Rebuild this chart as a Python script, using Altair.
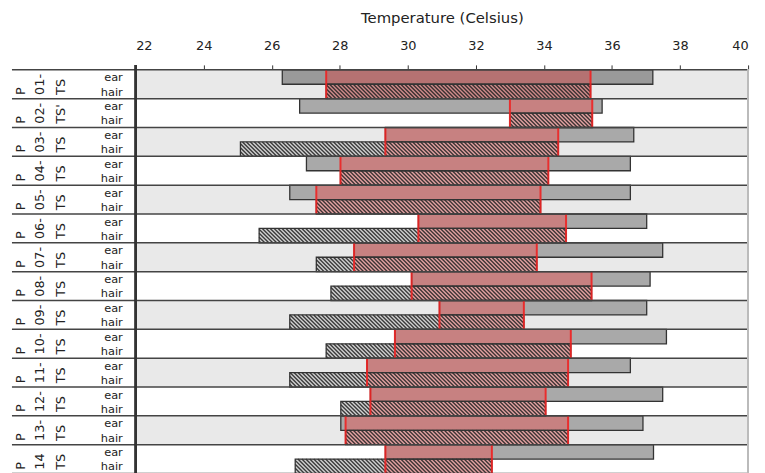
import altair as alt
import pandas as pd
import math

# ---- data ----
nums = ["01-", "02-", "03-", "04-", "05-", "06-", "07-", "08-", "09-", "10-", "11-", "12-", "13-", "14"]
ts_labels = ["TS", "TS'", "TS", "TS", "TS", "TS", "TS", "TS", "TS", "TS", "TS", "TS", "TS", "TS"]
ear_lo = [26.31, 26.82, 29.34, 27.02, 26.53, 30.31, 28.42, 30.11, 30.93, 29.62, 28.80, 28.90, 28.03, 29.34]
ear_hi = [37.20, 35.71, 36.64, 36.54, 36.54, 37.02, 37.49, 37.12, 37.02, 37.60, 36.54, 37.49, 36.91, 37.22]
hair_lo = [27.60, 33.00, 25.08, 28.02, 27.31, 25.63, 27.31, 27.74, 26.53, 27.60, 26.53, 28.03, 28.17, 26.69]
hair_hi = [35.37, 35.42, 34.42, 34.13, 33.90, 34.65, 33.79, 35.40, 33.41, 34.79, 34.71, 34.05, 34.71, 32.47]
ticks = list(range(22, 41, 2))

N = len(nums)
W, H = 619, 408
X0, X1 = 22, 40

rows = []
for i in range(N):
    rows.append({
        "i": i,
        "top": i, "mid": i + 0.5, "bot": i + 1,
        "xa": X0, "xb": X1,
        "ear_lo": ear_lo[i], "ear_hi": ear_hi[i],
        "hair_lo": hair_lo[i], "hair_hi": hair_hi[i],
        "red_lo": max(ear_lo[i], hair_lo[i]), "red_hi": min(ear_hi[i], hair_hi[i]),
        "stripe": "#e9e9e9" if i % 2 == 0 else "#ffffff",
        "ear_col": "#9a9a9a" if i == 0 else "#a9a9a9",
        "red_col": "#b57272" if i == 0 else "#c78181",
        "redh_col": "#cf8c8c" if i == 0 else "#e3a3a3",
        "p": "P", "num": nums[i], "ts": ts_labels[i],
        "ylab": i + 0.87, "year": i + 0.30, "yhair": i + 0.79,
        "ear": "ear", "hair": "hair",
    })
df = pd.DataFrame(rows)

# hatch texture for the hair bars (45 degree lines, clipped to each bar)
px = W / (X1 - X0)
step = 4.0 / px
D = (H / N / 2) / px
hatch = []
for r in rows:
    lo, hi = r["hair_lo"], r["hair_hi"]
    k0 = math.floor((lo - D - X0) / step)
    k1 = math.ceil((hi - X0) / step)
    for k in range(k0, k1 + 1):
        t = X0 + k * step
        s0 = max(0.0, (lo - t) / D)
        s1 = min(1.0, (hi - t) / D)
        if s1 > s0:
            hatch.append({"x": t + s0 * D, "x2": t + s1 * D,
                          "y": r["mid"] + s0 * 0.5, "y2": r["mid"] + s1 * 0.5})
hdf = pd.DataFrame(hatch)
lines = pd.DataFrame({"b": list(range(N + 1))})

xs = alt.Scale(domain=[X0, X1], nice=False, zero=False)
ys = alt.Scale(domain=[0, N], reverse=True, nice=False, zero=False)
TITLE = "Temperature (Celsius)"
xax = alt.Axis(orient="top", values=ticks, domain=False, grid=False,
               tickColor="#333333", tickSize=5, tickWidth=1,
               labelFont="DejaVu Sans", labelFontSize=13, labelColor="#222222",
               labelPadding=16, labelBaseline="alphabetic",
               titleFont="DejaVu Sans", titleFontSize=15, titleFontWeight="normal",
               titleColor="#222222", titleBaseline="alphabetic", titleY=-48)


def X(field):
    return alt.X(field, scale=xs, axis=xax, title=TITLE)


def Y(field):
    return alt.Y(field, scale=ys, axis=None)


base = alt.Chart(df)

bg = base.mark_rect().encode(
    x=X("xa:Q"), x2="xb:Q", y=Y("top:Q"), y2="bot:Q",
    color=alt.Color("stripe:N", scale=None))

ear = base.mark_rect().encode(
    x=X("ear_lo:Q"), x2="ear_hi:Q", y=Y("top:Q"), y2="mid:Q",
    color=alt.Color("ear_col:N", scale=None))

hair = base.mark_rect(color="#d2d2d2").encode(
    x=X("hair_lo:Q"), x2="hair_hi:Q", y=Y("mid:Q"), y2="bot:Q")

red_ear = base.mark_rect().encode(
    x=X("red_lo:Q"), x2="red_hi:Q", y=Y("top:Q"), y2="mid:Q",
    color=alt.Color("red_col:N", scale=None))

red_hair = base.mark_rect().encode(
    x=X("red_lo:Q"), x2="red_hi:Q", y=Y("mid:Q"), y2="bot:Q",
    color=alt.Color("redh_col:N", scale=None))

hatch_l = alt.Chart(hdf).mark_rule(color="#202020", strokeWidth=1.4, opacity=0.85).encode(
    x=X("x:Q"), x2="x2:Q", y=Y("y:Q"), y2="y2:Q")

ear_o = base.mark_rect(fillOpacity=0, stroke="#333333", strokeWidth=1.3).encode(
    x=X("ear_lo:Q"), x2="ear_hi:Q", y=Y("top:Q"), y2="mid:Q")

hair_o = base.mark_rect(fillOpacity=0, stroke="#333333", strokeWidth=1.3).encode(
    x=X("hair_lo:Q"), x2="hair_hi:Q", y=Y("mid:Q"), y2="bot:Q")

red_l = base.mark_rule(color="#ee2222", strokeWidth=2, opacity=0.9).encode(
    x=X("red_lo:Q"), y=Y("top:Q"), y2="bot:Q")
red_r = base.mark_rule(color="#ee2222", strokeWidth=2, opacity=0.9).encode(
    x=X("red_hi:Q"), y=Y("top:Q"), y2="bot:Q")

row_lines = alt.Chart(lines).mark_rule(color="#444444", strokeWidth=1.5).encode(
    x=alt.value(-125), x2=alt.value(W), y=Y("b:Q"))

left_line = alt.Chart(lines).mark_rule(color="#333333", strokeWidth=1.5).encode(
    x=alt.value(0), y=alt.value(-5), y2=alt.value(H))
right_line = alt.Chart(lines).mark_rule(color="#bbbbbb", strokeWidth=1.5).encode(
    x=alt.value(W), y=alt.value(0), y2=alt.value(H))


def rot_text(field, xpos):
    return base.mark_text(font="DejaVu Sans", fontSize=13, angle=270, align="left",
                          baseline="middle", color="#222222").encode(
        x=alt.value(xpos), y=Y("ylab:Q"), text=f"{field}:N")


t_p = rot_text("p", -116)
t_n = rot_text("num", -97)
t_t = rot_text("ts", -75)

t_ear = base.mark_text(font="DejaVu Sans", fontSize=11.5, align="right", baseline="middle",
                       color="#222222").encode(
    x=alt.value(-13), y=Y("year:Q"), text="ear:N")
t_hair = base.mark_text(font="DejaVu Sans", fontSize=11.5, align="right", baseline="middle",
                        color="#222222").encode(
    x=alt.value(-13), y=Y("yhair:Q"), text="hair:N")

chart = alt.layer(
    bg, ear, hair, red_ear, red_hair, hatch_l, ear_o, hair_o, red_l, red_r,
    row_lines, left_line, right_line, t_p, t_n, t_t, t_ear, t_hair
).properties(
    width=W, height=H,
    padding={"left": 129, "top": 60, "right": 9, "bottom": 0},
    autosize=alt.AutoSizeParams(type="none"),
).configure_view(stroke=None)

chart.save("out.html", embed_options={"renderer": "svg", "actions": False})
